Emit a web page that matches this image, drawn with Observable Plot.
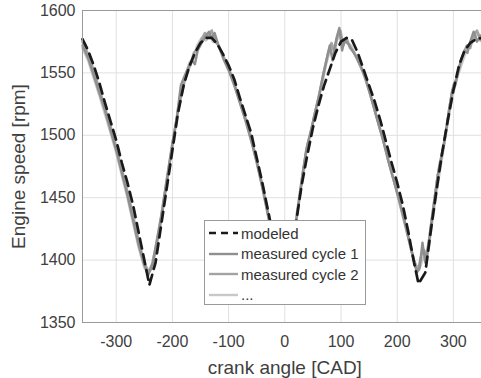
<!DOCTYPE html>
<html>
<head>
<meta charset="utf-8">
<script src="https://cdn.jsdelivr.net/npm/d3@7"></script>
<script src="https://cdn.jsdelivr.net/npm/@observablehq/plot@0.6"></script>
<style>
  html, body { margin: 0; padding: 0; background: #fff; overflow: hidden; }
  #wrap { position: relative; width: 481px; height: 378px; overflow: hidden; }
  #wrap > svg { max-width: none !important; width: 490px !important; height: 378px !important; }
  #wrap svg [aria-label="x-axis label"] text,
  #wrap svg [aria-label="y-axis label"] text { font-size: 19px; }
  #legend {
    position: absolute; left: 204px; top: 220px; width: 160px; height: 83px;
    background: #fff; border: 1px solid #9a9a9a;
    font-family: "Liberation Sans", Arial, sans-serif; font-size: 15px; color: #333;
  }
  .row { position: absolute; left: 0; height: 20px; display: flex; align-items: center; }
  .row svg { margin-left: 4px; margin-right: 3px; }
</style>
</head>
<body>
<div id="wrap"></div>
<script>
// crank angle [CAD], engine speed [rpm]
const modeled = [
  [-360,1577],[-350,1568],[-340,1556],[-330,1542],[-320,1526],[-310,1511],[-300,1496],[-290,1478],
  [-280,1462],[-270,1444],[-260,1422],[-250,1400],[-241,1380],[-230,1398],[-220,1428],[-210,1458],
  [-200,1488],[-190,1518],[-180,1540],[-170,1555],[-160,1566],[-150,1574],[-140,1578],[-130,1578],
  [-120,1573],[-110,1565],[-100,1556],[-90,1545],[-80,1530],[-70,1516],[-60,1502],[-50,1482],
  [-40,1462],[-30,1440],[-20,1418],[-10,1396],[0,1380],[10,1400],[20,1430],[30,1460],[40,1484],
  [50,1506],[60,1524],[70,1540],[80,1553],[90,1566],[100,1575],[110,1578],[120,1576],[130,1566],
  [140,1553],[150,1540],[160,1527],[170,1512],[180,1495],[190,1478],[200,1462],[210,1444],
  [220,1422],[230,1398],[238,1381],[250,1390],[260,1424],[270,1456],[280,1486],[290,1512],
  [300,1536],[310,1556],[320,1568],[330,1574],[340,1577],[350,1578],[360,1577]
];
const measuredCycle1 = [
  [-360,1572],[-350,1562],[-340,1548],[-330,1534],[-320,1520],[-310,1504],[-300,1488],[-290,1470],
  [-280,1452],[-270,1432],[-260,1412],[-250,1396],[-243,1388],[-235,1398],[-228,1415],[-220,1435],
  [-210,1465],[-200,1494],[-192,1515],[-185,1540],[-178,1548],[-170,1556],[-165,1560],[-160,1557],
  [-155,1568],[-148,1574],[-140,1580],[-135,1583],[-130,1578],[-125,1582],[-118,1572],[-110,1562],
  [-100,1552],[-90,1540],[-80,1526],[-70,1512],[-60,1496],[-50,1478],[-40,1458],[-30,1436],
  [-20,1414],[-10,1394],[0,1386],[8,1396],[15,1415],[22,1436],[30,1462],[38,1488],[45,1500],
  [52,1515],[60,1530],[68,1548],[75,1562],[80,1572],[85,1560],[92,1578],[97,1586],[102,1568],
  [106,1576],[112,1574],[120,1568],[128,1562],[135,1556],[145,1544],[155,1528],[165,1512],
  [175,1496],[185,1478],[195,1462],[205,1446],[215,1428],[225,1408],[235,1390],[240,1394],
  [245,1414],[250,1398],[258,1420],[265,1444],[272,1468],[280,1485],[285,1498],[292,1520],
  [298,1536],[303,1540],[308,1550],[315,1562],[320,1568],[325,1566],[330,1575],[336,1583],
  [342,1575],[348,1580],[355,1574],[360,1572]
];
const measuredCycle2 = [
  [-360,1575],[-350,1565],[-340,1552],[-330,1537],[-320,1522],[-310,1507],[-300,1490],[-290,1473],
  [-280,1455],[-270,1436],[-260,1415],[-250,1398],[-242,1390],[-236,1394],[-228,1412],[-220,1432],
  [-210,1462],[-200,1492],[-190,1520],[-182,1536],[-175,1550],[-168,1556],[-162,1566],[-155,1570],
  [-148,1577],[-142,1582],[-136,1579],[-130,1584],[-124,1576],[-116,1570],[-108,1562],[-100,1554],
  [-90,1542],[-80,1528],[-70,1514],[-60,1498],[-50,1480],[-40,1460],[-30,1438],[-20,1416],
  [-10,1398],[0,1388],[8,1398],[16,1420],[24,1444],[32,1470],[40,1492],[48,1506],[55,1520],
  [62,1534],[70,1552],[77,1566],[83,1574],[88,1566],[94,1580],[99,1584],[104,1572],[110,1578],
  [116,1570],[124,1566],[132,1558],[140,1550],[150,1536],[160,1520],[170,1504],[180,1488],
  [190,1470],[200,1454],[210,1436],[220,1418],[230,1400],[237,1392],[243,1404],[248,1408],
  [253,1402],[260,1428],[268,1454],[275,1476],[282,1490],[288,1506],[295,1528],[300,1540],
  [306,1546],[312,1558],[318,1566],[324,1572],[330,1570],[336,1580],[342,1584],[348,1576],
  [354,1580],[360,1575]
];
const measuredCycle3 = [
  [-360,1570],[-350,1560],[-340,1546],[-330,1532],[-320,1517],[-310,1502],[-300,1486],[-290,1468],
  [-280,1450],[-270,1430],[-260,1410],[-250,1394],[-244,1390],[-237,1396],[-230,1410],[-222,1430],
  [-212,1458],[-202,1486],[-194,1508],[-186,1530],[-178,1545],[-170,1558],[-162,1562],[-156,1572],
  [-148,1578],[-140,1576],[-134,1581],[-128,1575],[-120,1574],[-112,1566],[-104,1558],[-95,1548],
  [-85,1534],[-75,1520],[-65,1504],[-55,1488],[-45,1470],[-35,1448],[-25,1426],[-15,1406],
  [-5,1392],[2,1390],[10,1404],[18,1426],[26,1452],[34,1476],[42,1496],[50,1510],[58,1526],
  [66,1540],[73,1556],[80,1568],[86,1570],[92,1576],[98,1580],[104,1576],[110,1574],[118,1572],
  [126,1564],[134,1556],[144,1544],[154,1530],[164,1514],[174,1498],[184,1480],[194,1464],
  [204,1446],[214,1428],[224,1410],[233,1394],[239,1392],[246,1402],[252,1398],[258,1416],
  [266,1442],[274,1466],[282,1488],[290,1510],[296,1526],[302,1538],[308,1548],[314,1556],
  [320,1564],[326,1570],[332,1574],[338,1578],[344,1582],[350,1576],[356,1580],[360,1574]
];
const xTicks = [-300, -200, -100, 0, 100, 200, 300];
const yTicks = [1350, 1400, 1450, 1500, 1550, 1600];
const legendLabels = ["modeled", "measured cycle 1", "measured cycle 2", "..."];

const colModel = "#1a1a1a", col1 = "#8f8f8f", col2 = "#a3a3a3", col3 = "#c8c8c8";

const chart = Plot.plot({
  width: 490, height: 378,
  marginLeft: 82, marginRight: 3.4, marginTop: 10, marginBottom: 56,
  x: { domain: [-360, 360] },
  y: { domain: [1350, 1600] },
  style: { fontFamily: "'Liberation Sans', Arial, sans-serif", color: "#404040", background: "#fff" },
  marks: [
    Plot.gridX(xTicks, { stroke: "#e0e0e0", strokeOpacity: 1 }),
    Plot.gridY(yTicks, { stroke: "#e0e0e0", strokeOpacity: 1 }),
    Plot.line(measuredCycle3, { x: d => d[0], y: d => d[1], stroke: col3, strokeWidth: 2.5 }),
    Plot.line(measuredCycle2, { x: d => d[0], y: d => d[1], stroke: col2, strokeWidth: 2.5 }),
    Plot.line(measuredCycle1, { x: d => d[0], y: d => d[1], stroke: col1, strokeWidth: 2.4 }),
    Plot.line(modeled, { x: d => d[0], y: d => d[1], stroke: colModel, strokeWidth: 2.7, strokeDasharray: "10,6" }),
    Plot.frame({ stroke: "#9a9a9a" }),
    Plot.axisX(xTicks, { tickSize: 0, tickPadding: 13, fontSize: 16, tickFormat: d => String(d),
      label: "crank angle [CAD]", labelAnchor: "center", labelArrow: "none", labelOffset: 51 }),
    Plot.axisY(yTicks, { tickSize: 0, tickPadding: 7, fontSize: 16, tickFormat: d => String(d),
      label: "Engine speed [rpm]", labelAnchor: "center", labelArrow: "none", labelOffset: 71 })
  ]
});
const wrap = document.getElementById("wrap");
wrap.appendChild(chart);

// legend overlay
const legend = document.createElement("div");
legend.id = "legend";
const styles = [
  { stroke: colModel, dash: "7,5", w: 2.6 },
  { stroke: col1, dash: null, w: 2.4 },
  { stroke: col2, dash: null, w: 2.4 },
  { stroke: col3, dash: null, w: 2.4 }
];
legendLabels.forEach((lab, i) => {
  const row = document.createElement("div");
  row.className = "row";
  row.style.top = (2 + i * 20.5) + "px";
  const s = styles[i];
  row.innerHTML = `<svg width="29" height="10"><line x1="0" x2="29" y1="5" y2="5" stroke="${s.stroke}" stroke-width="${s.w}" ${s.dash ? `stroke-dasharray="${s.dash}"` : ""}/></svg><span>${lab}</span>`;
  legend.appendChild(row);
});
wrap.appendChild(legend);
</script>
</body>
</html>
